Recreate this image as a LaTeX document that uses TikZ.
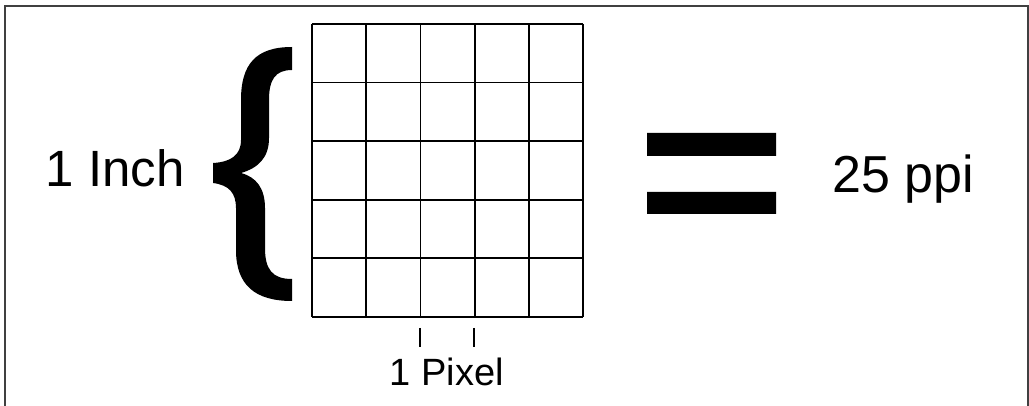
\documentclass[tikz,border=0pt]{standalone}
\usepackage{fontspec}
\setmainfont{Liberation Sans}
\usepackage{tikz}

\begin{document}
\begin{tikzpicture}[x=1pt,y=-1pt,every node/.style={inner sep=0pt,anchor=base},
    gridline/.style={line width=1.8pt,black}]
        \useasboundingbox (0,0) rectangle (1029,406);
        \fill[white] (0,0) rectangle (1029,406);
        \draw[line width=2pt,black!75] (5,406) -- (5,6) -- (1028,6) -- (1028,406); % outer frame, bottom edge cut off
        \foreach \i in {0,...,5} { % 5 by 5 grid of pixels
            \draw[gridline] (312+54.2*\i,24) -- (312+54.2*\i,317);
            \draw[gridline] (312,24+58.6*\i) -- (583,24+58.6*\i);
        }
        \fill[black] (292,47) .. controls (256,47) and (241,64) .. (241,100) % left brace
        -- (241,140) .. controls (241,155) and (231,162) .. (213,163)
        -- (213,183) .. controls (229,185) and (236,193) .. (236,208)
        -- (236,250) .. controls (236,285) and (255,301) .. (292,301)
        -- (292,279) .. controls (272,279) and (265,269) .. (265,248)
        -- (265,208) .. controls (265,188) and (256,177) .. (241,173)
        .. controls (258,168) and (269,158) .. (269,138)
        -- (269,100) .. controls (269,80) and (275,70) .. (292,70)
        -- cycle;
        \fill[black] (647,133) rectangle (776,156) % equals sign
        (647,192) rectangle (776,214);
        \node (inch) at (115,187) {\fontsize{51}{51}\selectfont 1 Inch};
        \node (ppi) at (903,193) {\fontsize{52}{52}\selectfont 25 ppi};
        \node (pixel) at (447,385) {\fontsize{38}{38}\selectfont 1 Pixel};
        \draw[line width=1.4pt] (420,328) -- (420,347) % one pixel wide marks
        (474,328) -- (474,347);
\end{tikzpicture}
\end{document}
